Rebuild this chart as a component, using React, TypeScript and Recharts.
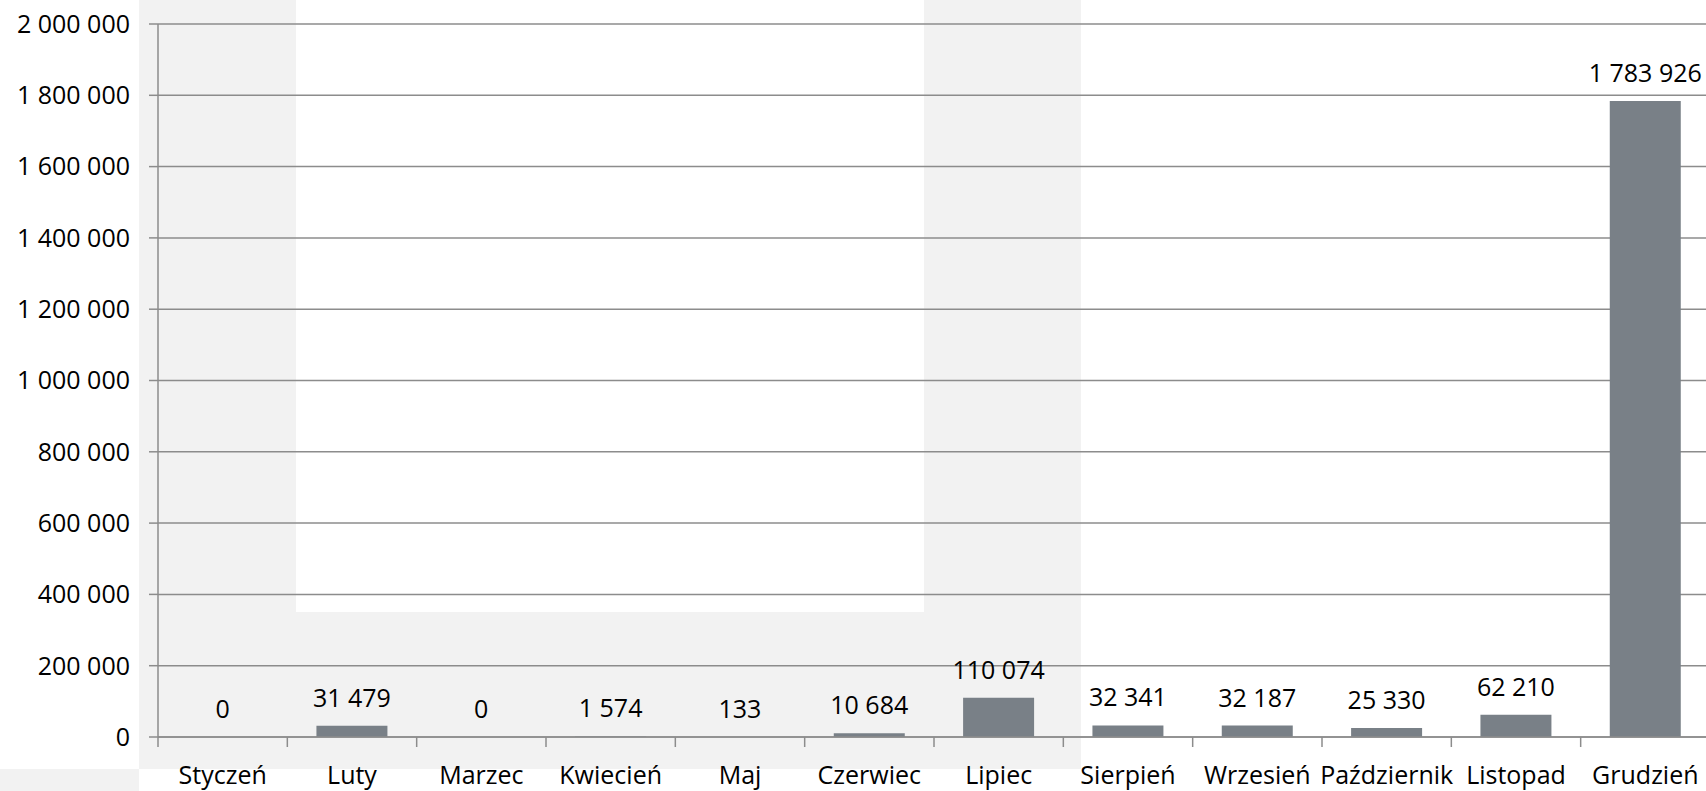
import React from "react";
import { BarChart, Bar, XAxis, YAxis, CartesianGrid, LabelList } from "recharts";

const months = [
  "Styczeń", "Luty", "Marzec", "Kwiecień", "Maj", "Czerwiec",
  "Lipiec", "Sierpień", "Wrzesień", "Październik", "Listopad", "Grudzień",
];
const values = [0, 31479, 0, 1574, 133, 10684, 110074, 32341, 32187, 25330, 62210, 1783926];
const yTicks = [0, 200000, 400000, 600000, 800000, 1000000, 1200000, 1400000, 1600000, 1800000, 2000000];

const data = months.map((m, i) => ({ month: m, value: values[i] }));

const CHART_W = 1710;
const CHART_H = 791;
const Y_AXIS_W = 158;
const BAND = (CHART_W - Y_AXIS_W) / months.length;
const FONT = "'Open Sans', sans-serif";
const FS = 25;
const LINE = "#8c8c8c";
const BAR = "#798087";
const GREY = "#f2f2f2";

const fmt = (v: any) => String(v).replace(/\B(?=(\d{3})+(?!\d))/g, " ");

const XTick = (props: any) => {
  const { x, y, payload } = props;
  const bx = x - BAND / 2;
  return (
    <g>
      <line x1={bx} y1={y} x2={bx} y2={y + 10} stroke={LINE} strokeWidth={1.5} />
      <text x={x} y={y + 47} textAnchor="middle" fill="#000" fontSize={FS} fontFamily={FONT}>
        {payload.value}
      </text>
    </g>
  );
};

const bg: React.CSSProperties = { position: "absolute", background: GREY };

export default function App() {
  return (
    <div
      style={{
        position: "fixed",
        left: 0,
        top: 0,
        width: 1706,
        height: 791,
        overflow: "hidden",
        background: "#fff",
        fontFamily: FONT,
      }}
    >
      <div style={{ ...bg, left: 139, top: 0, width: 157, height: 769 }} />
      <div style={{ ...bg, left: 139, top: 612, width: 942, height: 157 }} />
      <div style={{ ...bg, left: 924, top: 0, width: 157, height: 769 }} />
      <div style={{ ...bg, left: 0, top: 769, width: 139, height: 22 }} />
      <div style={{ position: "absolute", left: 0, top: 0 }}>
        <BarChart
          width={CHART_W}
          height={CHART_H}
          data={data}
          margin={{ top: 24, right: 0, bottom: 0, left: 0 }}
          barCategoryGap="22.5%"
        >
          <CartesianGrid vertical={false} stroke={LINE} strokeWidth={1.5} />
          <XAxis
            dataKey="month"
            height={54}
            interval={0}
            tickLine={false}
            tickSize={0}
            tickMargin={0}
            axisLine={{ stroke: LINE, strokeWidth: 1.5 }}
            tick={<XTick />}
          />
          <YAxis
            width={Y_AXIS_W}
            domain={[0, 2000000]}
            ticks={yTicks}
            interval={0}
            tickSize={9}
            tickMargin={19}
            tickFormatter={fmt}
            axisLine={{ stroke: LINE, strokeWidth: 1.5 }}
            tickLine={{ stroke: LINE, strokeWidth: 1.5 }}
            tick={{ fill: "#000", fontSize: FS, fontFamily: FONT }}
          />
          <Bar
            dataKey="value"
            fill={BAR}
            isAnimationActive={false}
            minPointSize={(v: any) => (v === 0 ? 0.01 : 0)}
          >
            <LabelList
              dataKey="value"
              position="top"
              offset={19}
              formatter={fmt}
              fill="#000"
              fontSize={FS}
              fontFamily={FONT}
            />
          </Bar>
        </BarChart>
      </div>
    </div>
  );
}
